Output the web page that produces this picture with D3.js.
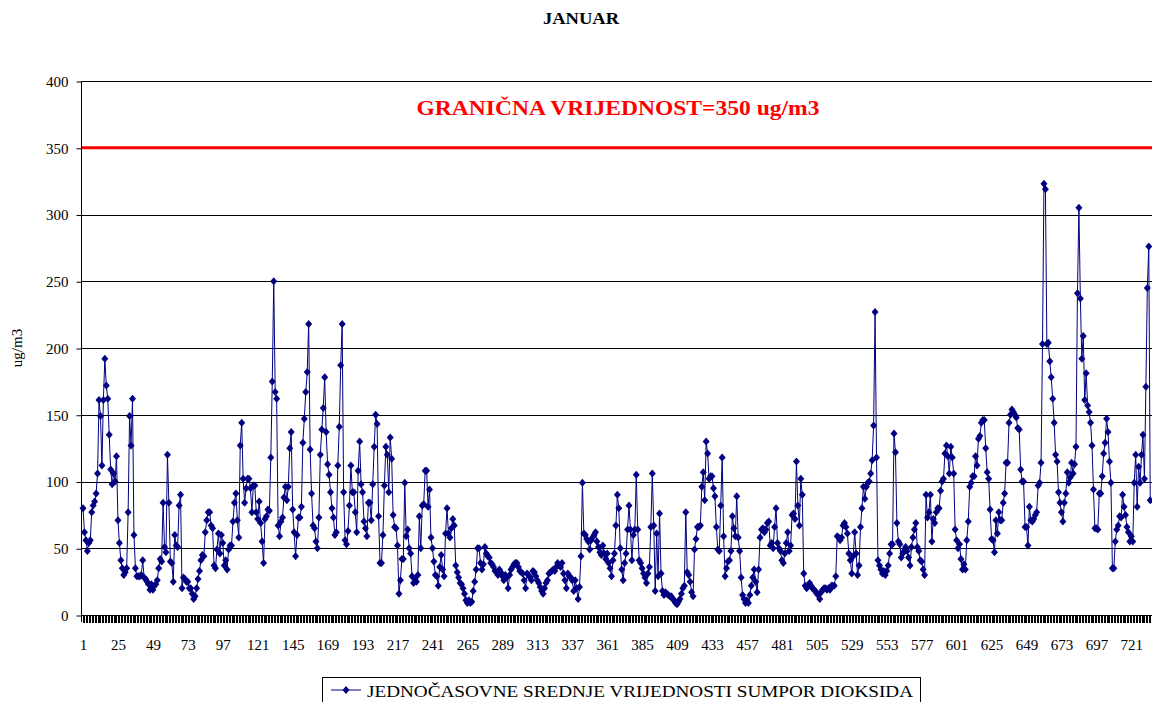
<!DOCTYPE html>
<html>
<head>
<meta charset="utf-8">
<script src="https://cdn.jsdelivr.net/npm/d3@7"></script>
<style>
  body { margin: 0; background: #fff; }
  svg text { font-family: "Liberation Serif", "Times New Roman", serif; }
</style>
</head>
<body>
<div id="chart"></div>
<script>
// hourly SO2 means, one row per day (January), last day clipped by the chart edge
const so2 = [
  80,62,56,48,54,56, 77,82,85,91,106,161, 149,112,161,192,172,162, 135,109,98,106,100,119,
  71,54,41,35,30,32, 35,77,149,127,162,60, 35,29,29,29,30,41, 28,27,25,23,19,23,
  19,22,23,26,35,42, 40,84,51,47,120,84, 40,39,25,60,52,51, 82,90,20,28,27,25,
  25,20,20,16,12,14, 20,27,33,41,45,44, 62,71,77,77,67,65, 37,35,49,61,46,60,
  54,37,41,34,49,52, 52,70,84,91,71,58, 127,144,102,84,95,102, 102,95,77,97,97,77,
  72,85,69,55,39,72, 74,79,78,118,175,250, 167,162,67,59,70,73, 88,96,86,96,125,137,
  79,62,44,60,73,73, 81,129,147,167,182,218, 124,91,67,65,55,50, 73,120,139,155,178,137,
  113,105,92,80,73,60, 62,112,141,187,218,92, 56,53,63,82,112,92, 92,77,62,108,130,98,
  92,70,65,59,84,84, 71,98,126,150,143,74, 39,39,60,97,126,120, 92,133,117,75,66,65,
  52,16,26,42,42,99, 59,64,50,46,29,24, 27,25,30,74,50,82, 83,108,108,81,94,58,
  50,40,30,29,22,36, 45,34,29,61,80,61, 58,65,72,67,37,32, 28,24,23,20,16,11,
  9,11,9,10,18,25, 34,50,50,39,34,38, 51,46,44,43,39,38, 36,33,32,30,34,32,
  29,26,30,28,20,30, 34,36,38,39,39,36, 33,32,31,26,20,31, 30,28,26,33,32,29,
  26,24,21,18,16,20, 24,26,31,32,33,34, 33,36,39,37,36,39, 31,26,20,31,29,28,
  26,18,26,20,12,21, 44,99,61,60,57,55, 49,56,58,60,62,55, 51,47,45,52,46,42,
  46,39,35,29,41,46, 67,90,80,50,34,26, 39,46,64,82,64,41, 60,64,105,64,41,39,
  35,31,28,24,31,36, 66,106,67,18,61,29, 76,31,18,15,17,16, 15,14,14,12,11,9,
  8,10,12,16,20,22, 77,32,30,25,17,14, 49,57,66,66,67,96, 107,86,130,121,102,104,
  104,95,89,66,49,48, 82,118,59,29,35,40, 41,48,74,65,59,89, 58,48,28,15,12,9,
  11,9,15,22,28,34, 25,17,34,58,64,65, 62,64,69,70,52,54, 50,66,80,54,50,48,
  41,39,46,54,62,48, 52,75,76,72,115,82, 67,102,90,31,22,20, 22,24,22,20,19,18,
  16,15,12,17,19,20, 20,19,20,19,22,22, 22,29,59,58,56,58, 67,69,66,61,46,41,
  31,44,62,46,30,37, 66,80,96,87,96,99, 100,106,116,142,227,118, 41,37,34,31,33,30,
  33,37,46,53,53,136, 122,69,55,53,43,46, 48,51,48,43,37,51, 58,64,69,51,48,41,
  40,34,30,90,73,77, 90,55,72,69,77,80, 80,93,100,102,121,127, 119,106,126,118,106,64,
  56,50,53,42,34,38, 34,56,70,96,99,104, 104,119,112,132,134,144, 146,146,125,107,102,79,
  57,56,47,71,61,77, 71,71,84,91,114,114, 144,150,154,152,150,148, 140,139,109,100,100,66,
  66,52,81,71,70,72, 75,77,97,99,114,203, 323,319,203,204,190,178, 162,144,120,115,92,84,
  77,70,84,91,107,99, 103,114,106,113,126,241, 305,237,192,209,161,181, 157,152,144,127,94,65,
  65,64,91,91,104,121, 129,147,137,115,99,35, 35,55,64,67,74,73, 90,81,75,66,62,55,
  59,55,99,120,81,111, 99,120,135,102,171,245, 276,86
];
const hoursInMonth = 744;
const xTickLabels = [1,25,49,73,97,121,145,169,193,217,241,265,289,313,337,361,385,409,433,457,481,505,529,553,577,601,625,649,673,697,721];
const yTicks = [0,50,100,150,200,250,300,350,400];
const limitValue = 350;
const limitLabel = "GRANIČNA VRIJEDNOST=350 ug/m3";
const chartTitle = "JANUAR";
const yLabel = "ug/m3";
const seriesName = "JEDNOČASOVNE SREDNJE VRIJEDNOSTI SUMPOR DIOKSIDA";

const serif = '"Liberation Serif", "Times New Roman", serif';
const width = 1152, height = 702;
const margin = {top: 81, left: 81, bottom: 87};
const plotBottom = height - margin.bottom;
const step = 1.456;

const svg = d3.select("#chart").append("svg")
    .attr("width", width)
    .attr("height", height);

const x = d3.scaleLinear()
    .domain([1, hoursInMonth])
    .range([margin.left + 2, margin.left + 2 + (hoursInMonth - 1) * step]);

const y = d3.scaleLinear()
    .domain([0, 400])
    .range([plotBottom, margin.top]);

// title
svg.append("text")
  .attr("x", 581)
  .attr("y", 24)
  .attr("text-anchor", "middle")
  .attr("font-size", "17px")
  .attr("font-weight", "bold")
  .attr("textLength", 76)
  .attr("lengthAdjust", "spacingAndGlyphs")
  .text(chartTitle);

// grid
svg.append("g")
  .selectAll("line")
  .data(yTicks)
  .join("line")
    .attr("x1", margin.left)
    .attr("x2", width)
    .attr("y1", d => Math.round(y(d)) + 0.5)
    .attr("y2", d => Math.round(y(d)) + 0.5)
    .attr("stroke", "#000")
    .attr("stroke-width", 1);

// limit line
svg.append("line")
  .attr("x1", margin.left)
  .attr("x2", width)
  .attr("y1", y(limitValue))
  .attr("y2", y(limitValue))
  .attr("stroke", "#ff0000")
  .attr("stroke-width", 3);

svg.append("text")
  .attr("x", 618)
  .attr("y", 115)
  .attr("text-anchor", "middle")
  .attr("font-size", "22px")
  .attr("font-weight", "bold")
  .attr("fill", "#ff0000")
  .attr("textLength", 403)
  .attr("lengthAdjust", "spacingAndGlyphs")
  .text(limitLabel);

// axes
const yAxis = d3.axisLeft(y)
  .tickValues(yTicks)
  .tickSize(5)
  .tickPadding(8);

svg.append("g")
  .attr("transform", `translate(${margin.left + 0.5}, 0.5)`)
  .call(yAxis)
  .call(g => g.select(".domain").remove())
  .call(g => g.selectAll("text").attr("font-size", "15px").attr("font-family", serif).attr("fill", "#000"));

svg.append("line")
  .attr("x1", margin.left + 0.5)
  .attr("x2", margin.left + 0.5)
  .attr("y1", margin.top)
  .attr("y2", plotBottom + 7)
  .attr("stroke", "#000");

const xAxis = d3.axisBottom(x)
  .tickValues(d3.range(1, hoursInMonth + 1))
  .tickSize(7)
  .tickPadding(17)
  .tickFormat(d => xTickLabels.includes(d) ? d : "");

svg.append("g")
  .attr("transform", `translate(0, ${plotBottom + 0.5})`)
  .attr("shape-rendering", "crispEdges")
  .call(xAxis)
  .call(g => g.select(".domain").remove())
  .call(g => g.selectAll("text").attr("font-size", "15px").attr("font-family", serif).attr("fill", "#000"));

svg.append("line")
  .attr("x1", margin.left)
  .attr("x2", width)
  .attr("y1", plotBottom + 0.5)
  .attr("y2", plotBottom + 0.5)
  .attr("stroke", "#000");

// y label
svg.append("text")
  .attr("transform", `translate(22, 348) rotate(-90)`)
  .attr("text-anchor", "middle")
  .attr("font-size", "15px")
  .text(yLabel);

// series
const diamond = "M0,-4L3.5,0L0,4L-3.5,0Z";
const navy = "#000080";

const line = d3.line()
  .x((d, i) => x(i + 1))
  .y(d => y(d));

svg.append("path")
  .datum(so2)
  .attr("fill", "none")
  .attr("stroke", navy)
  .attr("stroke-width", 1)
  .attr("d", line);

svg.append("g")
  .selectAll("path")
  .data(so2)
  .join("path")
    .attr("transform", (d, i) => `translate(${x(i + 1)}, ${y(d)})`)
    .attr("d", diamond)
    .attr("fill", navy);

// legend
const legend = svg.append("g");
legend.append("rect")
  .attr("x", 322.5)
  .attr("y", 677.5)
  .attr("width", 598)
  .attr("height", 40)
  .attr("fill", "none")
  .attr("stroke", "#000");
legend.append("line")
  .attr("x1", 331)
  .attr("x2", 361)
  .attr("y1", 690)
  .attr("y2", 690)
  .attr("stroke", navy);
legend.append("path")
  .attr("transform", "translate(346, 690)")
  .attr("d", diamond)
  .attr("fill", navy);
legend.append("text")
  .attr("x", 367)
  .attr("y", 697)
  .attr("font-size", "17px")
  .attr("textLength", 546)
  .attr("lengthAdjust", "spacingAndGlyphs")
  .text(seriesName);
</script>
</body>
</html>
